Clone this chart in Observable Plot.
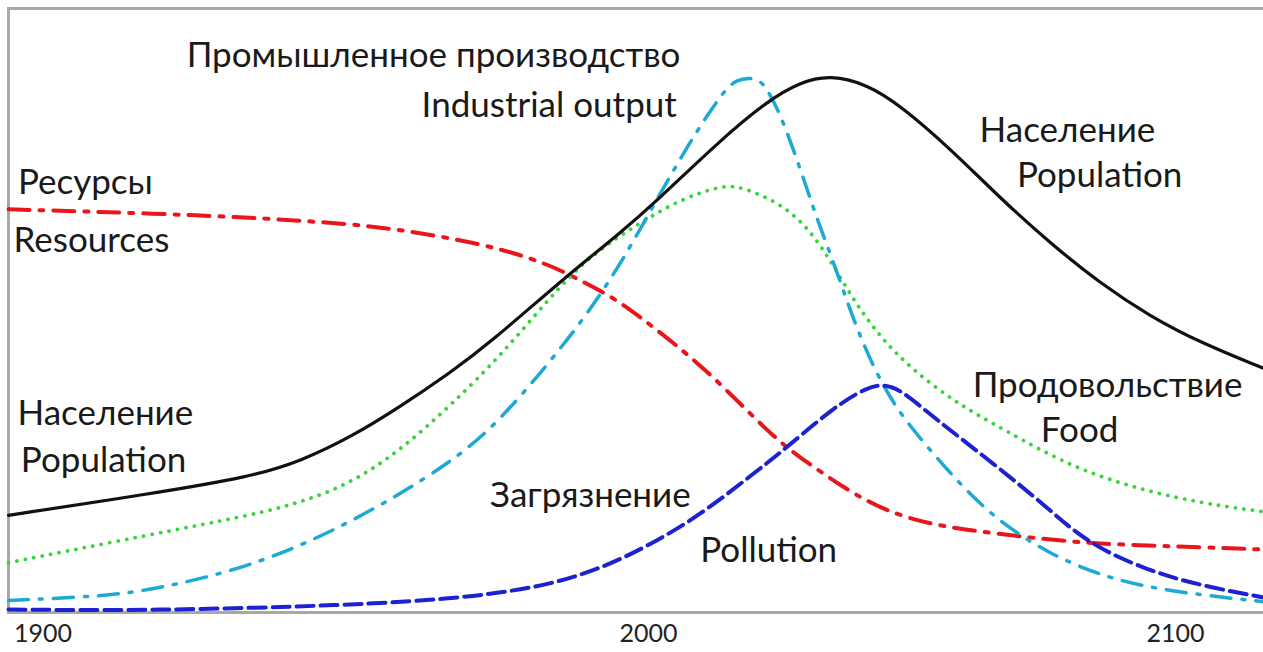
<!DOCTYPE html>
<html>
<head>
<meta charset="utf-8">
<script src="https://cdn.jsdelivr.net/npm/d3@7"></script>
<script src="https://cdn.jsdelivr.net/npm/@observablehq/plot@0.6"></script>
<style>
  html, body { margin: 0; padding: 0; background: #fff; }
  #chart svg { display: block; }
</style>
</head>
<body>
<div id="chart"></div>
<script>
// Years (x) and relative level (y, arbitrary units 0–100)
const populationYears = [1894.3, 1917.8, 1934.3, 1942.5, 1950.8, 1959.0, 1967.3, 1973.9, 1986.0, 1995.4, 2001.7, 2013.1, 2022.6, 2028.8, 2034.5, 2041.6, 2047.8, 2057.3, 2066.8, 2076.3, 2085.8, 2095.3, 2104.7, 2116.7];
const populationValues = [16.2, 19.8, 22.6, 25.2, 29.2, 34.3, 40.0, 45.0, 55.7, 63.3, 68.7, 78.3, 85.3, 88.4, 89.6, 88.0, 84.5, 77.3, 69.0, 61.5, 54.8, 49.3, 45.0, 40.7];

const resourcesYears = [1894.3, 1926.0, 1948.0, 1957.9, 1972.7, 1983.3, 1988.8, 1994.2, 1998.7, 2004.2, 2011.8, 2023.7, 2028.8, 2037.0, 2044.6, 2054.1, 2065.5, 2082.0, 2100.9, 2116.7];
const resourcesValues = [67.2, 66.3, 65.0, 64.0, 61.5, 58.2, 55.3, 52.5, 49.2, 45.3, 39.8, 29.2, 25.8, 20.8, 17.0, 14.5, 13.2, 11.5, 11.0, 10.5];

const industryYears = [1894.3, 1909.5, 1917.8, 1934.3, 1950.8, 1967.3, 1975.6, 1986.6, 1991.6, 1995.9, 2000.9, 2008.0, 2013.7, 2016.5, 2020.7, 2022.6, 2025.6, 2030.2, 2032.1, 2035.9, 2038.9, 2042.7, 2046.5, 2050.3, 2057.9, 2065.5, 2075.7, 2088.2, 2100.9, 2116.7];
const industryValues = [2.0, 2.7, 3.7, 7.5, 14.8, 24.8, 32.0, 45.3, 52.3, 59.0, 67.8, 78.7, 86.2, 89.0, 89.2, 87.2, 82.0, 70.3, 65.3, 56.5, 48.7, 40.8, 34.8, 30.3, 22.5, 15.8, 9.8, 5.3, 3.3, 1.8];

const foodYears = [1894.3, 1917.8, 1934.3, 1942.5, 1950.8, 1959.0, 1967.3, 1976.1, 1986.0, 1992.1, 1998.7, 2006.1, 2013.7, 2017.5, 2026.9, 2033.2, 2038.3, 2044.0, 2050.3, 2058.6, 2066.8, 2082.0, 2100.9, 2116.7];
const foodValues = [8.3, 13.0, 16.2, 18.3, 21.5, 27.0, 34.5, 43.3, 55.3, 60.7, 65.0, 68.9, 71.1, 71.1, 67.5, 60.8, 52.8, 45.8, 40.3, 34.8, 30.8, 23.3, 18.7, 16.8];

const pollutionYears = [1894.3, 1917.8, 1950.8, 1967.3, 1975.6, 1983.8, 1992.1, 2000.4, 2009.9, 2019.4, 2025.6, 2035.1, 2041.6, 2044.6, 2047.8, 2054.1, 2065.5, 2075.7, 2083.3, 2094.7, 2104.7, 2116.7];
const pollutionValues = [0.5, 0.3, 1.2, 2.3, 3.3, 4.7, 7.3, 11.3, 16.3, 22.8, 27.0, 34.2, 37.6, 38.0, 37.2, 32.5, 24.8, 17.5, 11.5, 7.0, 4.5, 2.5];

const tickYears = [1900, 2000, 2100];

const labelTexts = ["Промышленное производство", "Industrial output", "Население", "Population", "Ресурсы", "Resources", "Население", "Population", "Продовольствие", "Food", "Загрязнение", "Pollution"];
const labelYears = [1964.5, 1983.6, 2079.5, 2085.6, 1907.0, 1908.0, 1910.3, 1910.0, 2087.1, 2081.8, 1990.4, 2022.8];
const labelValues = [92.8, 84.5, 80.3, 72.8, 71.7, 62.0, 33.2, 25.3, 37.8, 30.3, 19.5, 10.3];

const zipSeries = (xs, ys) => xs.map((x, i) => ({year: x, value: ys[i]}));
const population = zipSeries(populationYears, populationValues);
const resources = zipSeries(resourcesYears, resourcesValues);
const industry = zipSeries(industryYears, industryValues);
const food = zipSeries(foodYears, foodValues);
const pollution = zipSeries(pollutionYears, pollutionValues);
const labels = labelTexts.map((t, i) => ({text: t, year: labelYears[i], value: labelValues[i]}));

const W = 1263, H = 652;
const chart = Plot.plot({
  width: W,
  height: H,
  marginLeft: 8,
  marginRight: 0,
  marginTop: 8,
  marginBottom: 40,
  style: {background: "#fff", fontFamily: "Lato, 'Open Sans', sans-serif"},
  x: {
    type: "linear",
    domain: [1900, 2000, 2100],
    range: [42.5, 648, 1175],
    label: null
  },
  y: {type: "linear", domain: [0, 100.67], axis: null},
  marks: [
    Plot.frame({stroke: "#a8a8a8", strokeWidth: 3, insetRight: -4}),
    Plot.axisX({ticks: tickYears, tickFormat: d => String(d), tickSize: 0, tickPadding: 12, fontSize: 25, fill: "#222", label: null}),
    Plot.line(resources, {x: "year", y: "value", curve: "basis", stroke: "#e8151b", strokeWidth: 4, strokeDasharray: "21,10,4,10"}),
    Plot.line(food, {x: "year", y: "value", curve: "basis", stroke: "#39d43f", strokeWidth: 3.8, strokeDasharray: "0.1,8.5", strokeLinecap: "round"}),
    Plot.line(industry, {x: "year", y: "value", curve: "basis", stroke: "#1ca9d4", strokeWidth: 3.5, strokeDasharray: "20,11,3,11"}),
    Plot.line(pollution, {x: "year", y: "value", curve: "basis", stroke: "#1c22d0", strokeWidth: 4, strokeDasharray: "17,7"}),
    Plot.line(population, {x: "year", y: "value", curve: "basis", stroke: "#141010", strokeWidth: 3.2}),
    Plot.text(labels, {x: "year", y: "value", text: "text", fontSize: 35, fill: "#1a1a1a", textAnchor: "middle", lineAnchor: "middle"})
  ]
});
document.getElementById("chart").appendChild(chart);
</script>
</body>
</html>
